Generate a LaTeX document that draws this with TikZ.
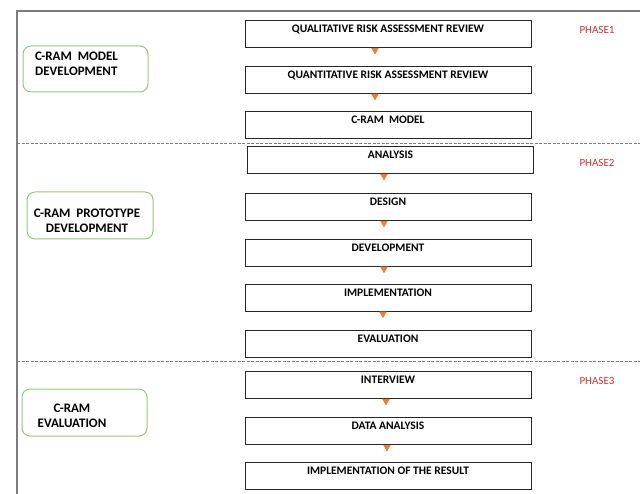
\documentclass[tikz,border=0pt]{standalone}
\usepackage{fontspec}
\setmainfont{Carlito}
\usepackage{xcolor}
\usepackage{tikz}
\usetikzlibrary{positioning,arrows.meta}

\definecolor{framegray}{RGB}{125,125,125}
\definecolor{boxgreen}{RGB}{150,200,115}
\definecolor{tiporange}{RGB}{237,125,49}
\definecolor{phasered}{RGB}{215,45,45}

\tikzset{
  stepbox/.style={draw=black!85,line width=0.9pt,minimum width=286pt,inner ysep=3pt,
    text height=9pt,text depth=12pt,font=\fontsize{11.5}{13}\selectfont\bfseries},
  phasebox/.style={draw=boxgreen,line width=1pt,rounded corners=8pt,minimum width=125pt,minimum height=46pt},
  phasetext/.style={font=\fontsize{13}{15.5}\selectfont\bfseries,inner sep=0pt},
  phaselabel/.style={text=phasered,font=\fontsize{11}{12}\selectfont},
  flow/.style={tiporange,line width=0.4pt,-{Triangle[width=7.5pt,length=6.5pt]}},
  sep/.style={framegray,line width=0.8pt,dash pattern=on 3pt off 1.5pt}
}

\begin{document}
\begin{tikzpicture}[x=1pt,y=-1pt]
    \useasboundingbox (0,0) rectangle (640,494);
    \coordinate (tl) at (17,11);
    \coordinate (tr) at (640,11);
    \coordinate (bl) at (17,494);
    \draw[framegray,line width=1.3pt] (tr) -- (tl) -- (bl);
    \draw[sep] (17,143) -- (640,143);
    \draw[sep] (17,361) -- (640,361);

    \node [stepbox,anchor=north] (qual) at (388,20) {QUALITATIVE RISK ASSESSMENT REVIEW};
    \node [stepbox,below=18pt of qual] (quant) {QUANTITATIVE RISK ASSESSMENT REVIEW};
    \node [stepbox,below=17pt of quant] (model) {C-RAM\ \ MODEL};

    \node [stepbox,anchor=north] (analysis) at (390.5,146) {ANALYSIS};
    \node [stepbox,below=19pt of analysis,xshift=-2.5pt] (design) {DESIGN};
    \node [stepbox,below=18pt of design] (develop) {DEVELOPMENT};
    \node [stepbox,below=17pt of develop] (implement) {IMPLEMENTATION};
    \node [stepbox,below=18pt of implement] (evaluate) {EVALUATION};

    \node [stepbox,anchor=north] (interview) at (388,371) {INTERVIEW};
    \node [stepbox,below=18pt of interview] (data) {DATA ANALYSIS};
    \node [stepbox,below=17pt of data] (result) {IMPLEMENTATION OF THE RESULT};

    \node [phasebox] (m1) at (85.5,69) {};
    \node [phasetext,align=left,anchor=west] (m1t) at (35,64) {C-RAM\ \ MODEL\\DEVELOPMENT};
    \node [phasebox,minimum width=126pt,minimum height=47pt] (m2) at (90,215.5) {};
    \node [phasetext,align=center] (m2t) at (87,221) {C-RAM\ \ PROTOTYPE\\DEVELOPMENT};
    \node [phasebox,minimum height=47pt] (m3) at (84.5,412.5) {};
    \node [phasetext,align=center] (m3t) at (72,416) {C-RAM\\EVALUATION};

    \node [phaselabel] (p1) at (597,30) {PHASE1};
    \node [phaselabel] (p2) at (597,163) {PHASE2};
    \node [phaselabel] (p3) at (597,381) {PHASE3};

    \coordinate [below=6.5pt of qual.south,xshift=-13pt] (t1);
    \coordinate [below=6.5pt of quant.south,xshift=-13pt] (t2);
    \coordinate [below=6.5pt of analysis.south,xshift=-6.5pt] (t3);
    \coordinate [below=6.5pt of design.south,xshift=-4pt] (t4);
    \coordinate [below=6.5pt of develop.south,xshift=-4pt] (t5);
    \coordinate [below=6.5pt of implement.south,xshift=-5pt] (t6);
    \coordinate [below=6.5pt of interview.south,xshift=-2pt] (t7);
    \coordinate [below=6.5pt of data.south,xshift=-1pt] (t8);
    \draw[flow] (qual.south -| t1) -- (t1);
    \draw[flow] (quant.south -| t2) -- (t2);
    \draw[flow] (analysis.south -| t3) -- (t3);
    \draw[flow] (design.south -| t4) -- (t4);
    \draw[flow] (develop.south -| t5) -- (t5);
    \draw[flow] (implement.south -| t6) -- (t6);
    \draw[flow] (interview.south -| t7) -- (t7);
    \draw[flow] (data.south -| t8) -- (t8);
\end{tikzpicture}
\end{document}
